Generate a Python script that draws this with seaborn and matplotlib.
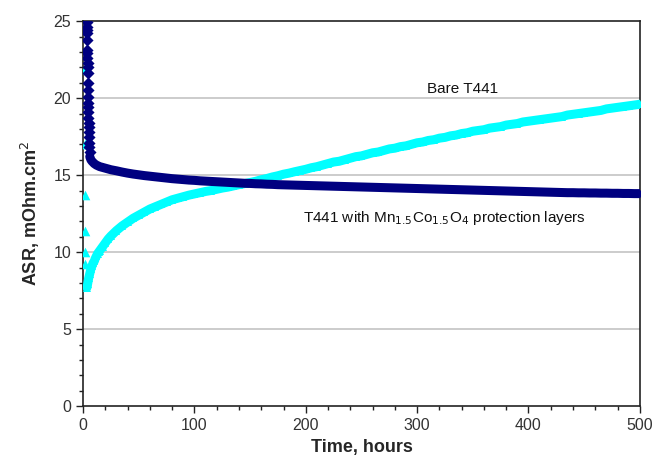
import numpy as np
import pandas as pd
import matplotlib
matplotlib.use("Agg")
import matplotlib.pyplot as plt
import seaborn as sns
from matplotlib.ticker import MultipleLocator

# Bare T441 (cyan triangles): scattered first readings, then the continuous curve
bare_early_time = [2, 2, 2, 2, 2, 2]
bare_early_asr = [21.9, 17.0, 13.7, 11.4, 10.0, 9.2]

bare_time = [3.5, 4, 4.5, 5, 6, 7, 8, 9, 10, 11, 12, 13, 14, 15, 17.5, 20, 22.5, 25,
             30, 35, 40, 45, 50, 55, 60, 65, 70, 75, 80, 85, 90, 95, 100,
             105, 110, 115, 120, 125, 130, 135, 140, 145, 150, 155, 160, 165, 170, 175, 180,
             185, 190, 195, 200, 205, 210, 215, 220, 225, 230, 235, 240, 245, 250, 255, 260,
             265, 270, 275, 280, 285, 290, 295, 300, 305, 310, 315, 320, 325, 330, 335, 340,
             345, 350, 355, 360, 365, 370, 375, 380, 385, 390, 395, 400, 405, 410, 415, 420,
             425, 430, 435, 440, 445, 450, 455, 460, 465, 470, 475, 480, 485, 490, 495, 500]
bare_asr = [7.7, 7.9, 8.1, 8.3, 8.6, 8.9, 9.1, 9.3, 9.4, 9.6, 9.75, 9.9, 10.0, 10.1, 10.35, 10.6, 10.85, 11.05,
            11.4, 11.7, 11.95, 12.2, 12.4, 12.6, 12.8, 12.95, 13.1, 13.25, 13.4, 13.5, 13.6, 13.7, 13.78,
            13.86, 13.94, 14.0, 14.08, 14.16, 14.22, 14.3, 14.38, 14.45, 14.52, 14.6, 14.7, 14.78, 14.88, 14.96, 15.06,
            15.13, 15.22, 15.3, 15.38, 15.48, 15.55, 15.65, 15.75, 15.85, 15.9, 16.0, 16.1, 16.2, 16.25, 16.35, 16.45,
            16.5, 16.6, 16.7, 16.75, 16.85, 16.9, 17.0, 17.1, 17.15, 17.25, 17.3, 17.4, 17.45, 17.55, 17.6, 17.7,
            17.75, 17.85, 17.9, 17.95, 18.05, 18.1, 18.15, 18.25, 18.3, 18.35, 18.45, 18.5, 18.55, 18.6, 18.65, 18.7,
            18.75, 18.8, 18.9, 18.95, 19.0, 19.05, 19.1, 19.15, 19.2, 19.3, 19.35, 19.4, 19.45, 19.5, 19.55, 19.6]

# T441 with Mn1.5Co1.5O4 coating (navy diamonds): fast initial drop, then the curve
coated_early_time = [3.3, 3.4, 3.5, 3.5, 3.6, 3.7, 3.8, 3.9, 4.0, 4.0, 4.1, 4.2, 4.3, 4.4, 4.5,
                     4.6, 4.7, 4.8, 4.9, 5.0, 5.1, 5.2, 5.4, 5.6, 5.8]
coated_early_asr = [24.95, 24.6, 24.4, 24.2, 23.8, 23.1, 22.9, 22.6, 22.3, 22.0, 21.6, 21.0, 20.5, 20.1, 19.7,
                    19.4, 19.1, 18.7, 18.4, 18.1, 17.8, 17.5, 17.1, 16.8, 16.5]

coated_time = [6.0, 7, 8, 10, 12, 15, 17.5, 20, 22.5, 25, 30, 35, 40, 45, 50, 55, 60, 65, 70, 75, 80, 85, 90, 95, 100,
               105, 110, 115, 120, 125, 130, 135, 140, 145, 150, 155, 160, 165, 170, 175, 180,
               185, 190, 195, 200, 205, 210, 215, 220, 225, 230, 235, 240, 245, 250, 255, 260,
               265, 270, 275, 280, 285, 290, 295, 300, 305, 310, 315, 320, 325, 330, 335, 340,
               345, 350, 355, 360, 365, 370, 375, 380, 385, 390, 395, 400, 405, 410, 415, 420,
               425, 430, 435, 440, 445, 450, 455, 460, 465, 470, 475, 480, 485, 490, 495, 500]
coated_asr = [16.2, 16.0, 15.9, 15.75, 15.65, 15.55, 15.5, 15.45, 15.4, 15.35, 15.28, 15.2, 15.13, 15.07, 15.02,
              14.97, 14.93, 14.89, 14.85, 14.81, 14.77, 14.74, 14.71, 14.68, 14.66,
              14.63, 14.61, 14.59, 14.57, 14.55, 14.53, 14.51, 14.49, 14.47, 14.46, 14.44, 14.43, 14.41, 14.40, 14.38, 14.37,
              14.36, 14.35, 14.34, 14.33, 14.32, 14.31, 14.30, 14.29, 14.28, 14.27, 14.26, 14.25, 14.24, 14.23, 14.22, 14.21,
              14.20, 14.19, 14.18, 14.17, 14.16, 14.15, 14.14, 14.13, 14.12, 14.11, 14.10, 14.09, 14.08, 14.07, 14.06, 14.05,
              14.04, 14.03, 14.02, 14.01, 14.00, 13.99, 13.98, 13.97, 13.96, 13.95, 13.94, 13.93, 13.92, 13.91, 13.90, 13.89,
              13.88, 13.87, 13.86, 13.86, 13.85, 13.85, 13.84, 13.84, 13.83, 13.83, 13.82, 13.82, 13.81, 13.81, 13.80, 13.80]

x_ticks = [0, 100, 200, 300, 400, 500]
y_ticks = [0, 5, 10, 15, 20, 25]

cyan = "#00ffff"
navy = "#000080"

sns.set_style("white")
plt.rcParams["font.family"] = ["Liberation Sans", "DejaVu Sans"]

bare_df = pd.DataFrame({"time": bare_time, "asr": bare_asr})
coated_df = pd.DataFrame({"time": coated_time, "asr": coated_asr})

fig = plt.figure(figsize=(6.7, 4.69), dpi=100)
ax = fig.add_axes([0.124, 0.134, 0.831, 0.821])

for v in [5, 10, 15, 20]:
    ax.axhline(v, color="#c8c8c8", linewidth=1.3, zorder=1)

# densely logged points merge into a thick band, so draw the curve as a wide line plus markers
sns.lineplot(data=bare_df, x="time", y="asr", color=cyan, linewidth=6.5, ax=ax,
             marker="^", markersize=5.5, markeredgewidth=0, sort=False, zorder=3)
sns.scatterplot(x=bare_early_time, y=bare_early_asr, marker="^", color=cyan,
                s=48, linewidth=0, ax=ax, zorder=3)

sns.lineplot(data=coated_df, x="time", y="asr", color=navy, linewidth=6.5, ax=ax,
             marker="D", markersize=4.5, markeredgewidth=0, sort=False, zorder=4)
sns.scatterplot(x=coated_early_time, y=coated_early_asr, marker="D", color=navy,
                s=38, linewidth=0, ax=ax, zorder=4)

ax.set_xlim(0, 500)
ax.set_ylim(0, 25)
ax.set_xticks(x_ticks)
ax.set_yticks(y_ticks)
ax.xaxis.set_minor_locator(MultipleLocator(20))
ax.yaxis.set_minor_locator(MultipleLocator(1))
ax.tick_params(which="major", direction="out", length=5, width=1, colors="#222222",
               labelsize=11.5, bottom=True, left=True)
ax.tick_params(which="minor", direction="out", length=3, width=1, colors="#222222",
               bottom=True, left=True)
ax.tick_params(axis="both", labelcolor="#333333")

for side in ["left", "bottom", "top", "right"]:
    ax.spines[side].set_color("#222222")
    ax.spines[side].set_linewidth(1.2)
    ax.spines[side].set_visible(True)

ax.set_xlabel("Time, hours", fontsize=13, fontweight="bold", labelpad=4)
ax.set_ylabel("ASR, mOhm.cm$^2$", fontsize=13, fontweight="bold", labelpad=8)

ax.text(341, 20.6, "Bare T441", fontsize=11, ha="center", va="center", color="#111111")
ax.text(325, 12.2, "T441 with Mn$_{1.5}$Co$_{1.5}$O$_4$ protection layers", fontsize=11,
        ha="center", va="center", color="#111111")

fig.savefig("out.png", dpi=100)
